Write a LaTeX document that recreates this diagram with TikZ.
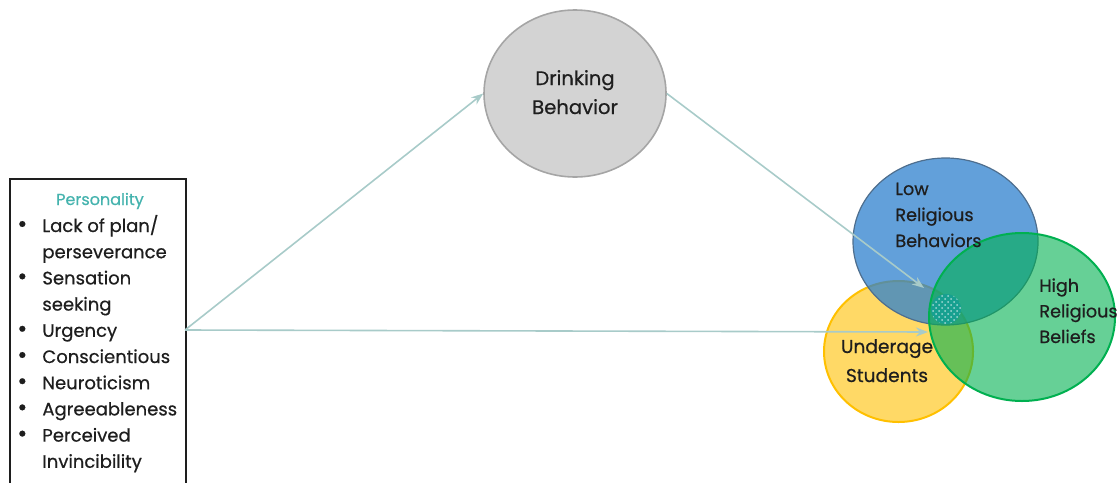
\documentclass[tikz,border=0pt]{standalone}
\usepackage{fontspec}
\setmainfont{Poppins}[FakeBold=0.6]
\usepackage{tikz}
\usetikzlibrary{shapes.geometric}
\usetikzlibrary{patterns}
\usetikzlibrary{arrows.meta}
\definecolor{titlecol}{HTML}{45B3AE}
\definecolor{textcol}{HTML}{1E1E1E}
\definecolor{linkcol}{HTML}{A8CBC9}
\definecolor{drinkfill}{HTML}{D3D3D3}
\definecolor{drinkline}{HTML}{A5A5A5}
\definecolor{lowfill}{HTML}{2D80CD}
\definecolor{lowline}{HTML}{4E6E8E}
\definecolor{highfill}{HTML}{00B050}
\definecolor{agefill}{HTML}{FFD966}
\definecolor{ageline}{HTML}{FFC000}
\definecolor{spotfill}{HTML}{17A090}
\newcommand{\trait}{{\fontsize{12}{13.1}\selectfont\textbullet}}

\begin{document}
\begin{tikzpicture}[x=0.5pt, y=-0.5pt, >={Stealth[length=6pt, width=4.5pt]}]
    \tikzstyle link=[->, draw=linkcol, line width=0.8pt]
    \tikzstyle venn=[ellipse, inner sep=0pt]
    \tikzstyle venntext=[anchor=base west, align=left, inner sep=0pt, text=textcol, font=\fontsize{8.8}{13}\selectfont]
    \useasboundingbox (0,0) rectangle (1117,482);
    \node[draw=textcol, line width=1pt, minimum width=88pt, minimum height=154pt, anchor=north west, inner sep=0pt] (personality) at (9,178) {};
    \node[anchor=base, text=titlecol, font=\fontsize{8}{10}\selectfont] (title) at (100,205) {Personality};
    \node[anchor=base west, inner sep=0pt, text=textcol, font=\fontsize{9}{13.1}\selectfont] (traits) at (17,232) {%
      \begin{tabular}[t]{@{}p{12.5pt}@{}l@{}}
        \trait & Lack of plan/\\
               & perseverance\\
        \trait & Sensation\\
               & seeking\\
        \trait & Urgency\\
        \trait & Conscientious\\
        \trait & Neuroticism\\
        \trait & Agreeableness\\
        \trait & Perceived\\
               & Invincibility
      \end{tabular}};
    \coordinate (src) at (185,330);
    \node[venn, fill=drinkfill, draw=drinkline, line width=0.8pt, minimum width=91pt, minimum height=83.5pt] (drink) at (575,93.5) {};
    \node[venntext, anchor=base, align=center, font=\fontsize{9.8}{14.5}\selectfont] (drinktext) at (575,114) {Drinking\\Behavior};
    \node[venn, fill=agefill, draw=ageline, line width=1pt, minimum width=74.5pt, minimum height=70.5pt] (under) at (898.5,351.5) {};
    \node[venn, fill=lowfill, fill opacity=0.75, draw=lowline, line width=0.6pt, minimum width=92.5pt, minimum height=83.5pt] (low) at (945.5,241.5) {};
    \node[venn, fill=highfill, fill opacity=0.6, draw=highfill, line width=1pt, minimum width=93pt, minimum height=84pt] (high) at (1022,317) {};
    \node[circle, inner sep=0pt, minimum size=15pt, fill=spotfill, postaction={pattern=crosshatch dots, pattern color=white!60!spotfill}] (spot) at (946,309) {};
    \node[venntext] (lowtext) at (895,247) {Low\\Religious\\Behaviors};
    \node[venntext, font=\fontsize{8.8}{12.8}\selectfont] (hightext) at (1039,343) {High\\Religious\\Beliefs};
    \node[venntext, anchor=base, align=center, font=\fontsize{9.3}{14.5}\selectfont] (undertext) at (887,382) {Underage\\Students};
    \coordinate (hit1) at (924,288);
    \coordinate (hit2) at (928,332);
    \draw[link] (src) -- (drink.west);
    \draw[link] (src) -- (hit2);
    \draw[link] (drink.east) -- (hit1);
\end{tikzpicture}
\end{document}
